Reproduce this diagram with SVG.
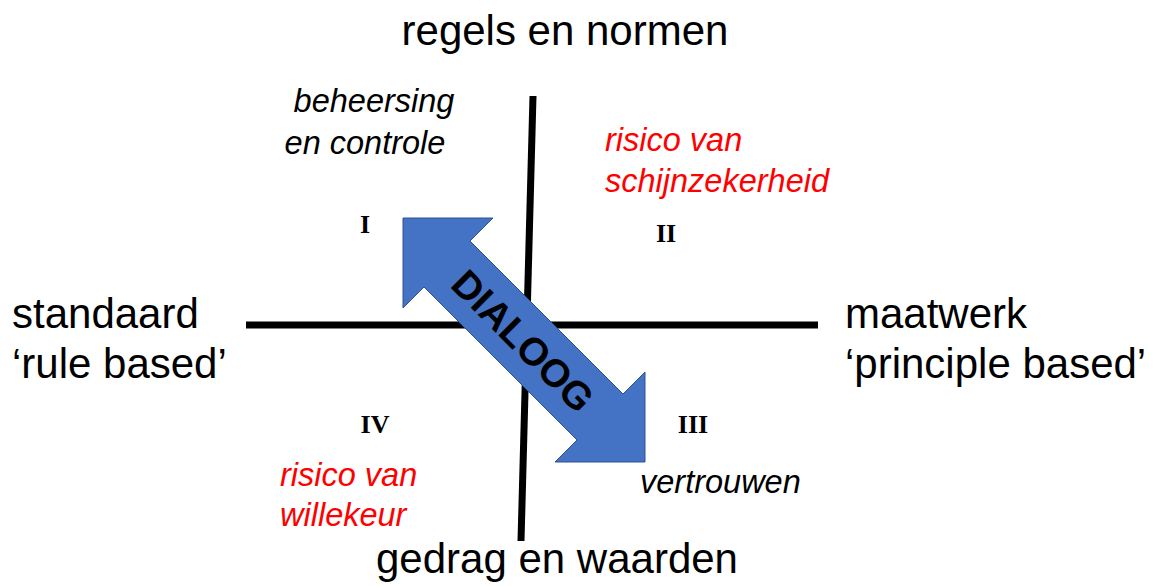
<svg xmlns="http://www.w3.org/2000/svg" width="1161" height="586" viewBox="0 0 1161 586">
<style>
.big{font-family:"Liberation Sans",Arial,sans-serif;font-size:42px;fill:#000}
.it{font-family:"Liberation Sans",Arial,sans-serif;font-size:32.5px;font-style:italic;fill:#000}
.red{fill:#ff0000}
.num{font-family:"Liberation Serif","Times New Roman",serif;font-size:26px;font-weight:bold;fill:#000}
.axis{stroke:#000;stroke-width:7;fill:none}
</style>
<rect width="1161" height="586" fill="#fff"/>
<g id="connectors">
<line class="axis" x1="246" y1="325" x2="818" y2="325"/>
<line class="axis" x1="533" y1="96" x2="521" y2="541"/>
</g>
<g id="dialoog">
<polygon points="403,218 493,218 470,241 623,394 645,372 645,462 555,462 577,440 424,287 403,308" fill="#4472c4" stroke="#2f528f" stroke-width="1"/>
<text x="523" y="341" transform="rotate(45 523 341)" text-anchor="middle" dominant-baseline="central" font-family="'Liberation Sans',Arial,sans-serif" font-size="39" font-weight="bold" fill="#000">DIALOOG</text>
</g>
<g id="top"><text class="big" x="565" y="45" text-anchor="middle">regels en normen</text></g>
<g id="bottom"><text class="big" x="557" y="573" text-anchor="middle">gedrag en waarden</text></g>
<g id="left"><text class="big" x="12" y="328">standaard</text><text class="big" x="12" y="378">‘rule based’</text></g>
<g id="right"><text class="big" x="845" y="328">maatwerk</text><text class="big" x="845" y="378">‘principle based’</text></g>
<g id="q1">
<text class="it" x="374" y="112" text-anchor="middle">beheersing</text>
<text class="it" x="365" y="154" text-anchor="middle">en controle</text>
<text class="num" x="365" y="233" text-anchor="middle">I</text>
</g>
<g id="q2">
<text class="it red" x="605" y="151">risico van</text>
<text class="it red" x="605" y="192">schijnzekerheid</text>
<text class="num" x="666" y="242" text-anchor="middle">II</text>
</g>
<g id="q3">
<text class="num" x="693" y="433" text-anchor="middle">III</text>
<text class="it" x="640" y="493">vertrouwen</text>
</g>
<g id="q4">
<text class="num" x="375" y="433" text-anchor="middle">IV</text>
<text class="it red" x="280" y="486">risico van</text>
<text class="it red" x="280" y="526">willekeur</text>
</g>
</svg>
